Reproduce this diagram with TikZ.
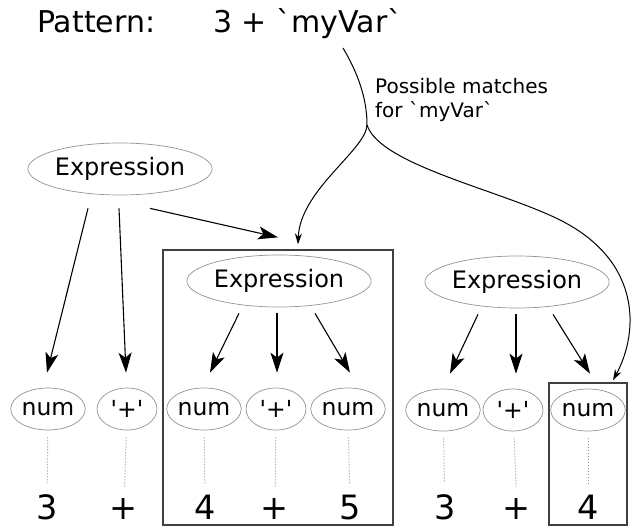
\documentclass[tikz,border=0pt]{standalone}
\usepackage{fontspec}
\setmainfont{DejaVu Sans}
\usetikzlibrary{shapes.geometric,arrows.meta}
\begin{document}
\begin{tikzpicture}[x=1pt, y=-1pt,
        >={Stealth[length=20pt,width=13pt,inset=5pt]},
        rule/.style={ellipse, draw=gray!85, line width=0.7pt, inner sep=0pt},
        expr/.style={rule, minimum width=180pt, minimum height=52pt, font=\fontsize{24}{28}\selectfont},
        leaf/.style={rule, minimum width=70pt, minimum height=42pt, font=\fontsize{23.5}{27}\selectfont},
        lit/.style={rule, minimum width=60pt, minimum height=42pt, font=\fontsize{23.5}{27}\selectfont},
        tok/.style={anchor=base, inner sep=0pt, font=\fontsize{33.5}{38}\selectfont},
        kid/.style={->, line width=1.1pt},
        link/.style={draw=gray!85, dotted, line width=1pt, shorten <=7pt, shorten >=11pt},
        matchbox/.style={draw=black!75, line width=1.3pt, inner sep=0pt},
        hint/.style={-{Stealth[length=11pt,width=7pt]}, line width=1pt}]
        \useasboundingbox (0,0) rectangle (640,527);

        % The pattern on top
        \node[anchor=base west, inner sep=0pt, font=\fontsize{30}{35}\selectfont] (patlabel) at (37,33) {Pattern:};
        \node[anchor=base west, inner sep=0pt, font=\fontsize{30}{35}\selectfont] (patexpr) at (213,33)
            {3 + \textasciigrave myVar\textasciigrave};
        \node[anchor=north west, inner sep=0pt, align=left, font=\fontsize{20}{24}\selectfont] (note) at (375,78)
            {Possible matches\\for \textasciigrave myVar\textasciigrave};

        % the two boxes around the matches
        \node[matchbox, minimum width=230pt, minimum height=275pt] (midbox) at (278,387.5) {};
        \node[matchbox, minimum width=78pt, minimum height=142pt] (hitbox) at (588,454) {};

        % the three Expression rules
        \node[expr] (topexpr) at (120,169) {Expression};
        \node[expr] (midexpr) at (279,281) {Expression};
        \node[expr] (rightexpr) at (517,282) {Expression};

        % the leaves, left to right
        \node[leaf] (num1) at (48,409) {num};
        \node[lit] (plus1) at (127,409) {\textquotesingle+\textquotesingle};
        \node[leaf] (num2) at (204,409) {num};
        \node[lit] (plus2) at (276,409) {\textquotesingle+\textquotesingle};
        \node[leaf] (num3) at (348,409) {num};
        \node[leaf] (num4) at (443,410) {num};
        \node[lit] (plus3) at (513,410) {\textquotesingle+\textquotesingle};
        \node[leaf] (num5) at (588,410) {num};

        % the tokens at the bottom
        \node[tok] (t1) at (47,519) {3};
        \node[tok] (t2) at (124,519) {+};
        \node[tok] (t3) at (205,519) {4};
        \node[tok] (t4) at (275,519) {+};
        \node[tok] (t5) at (350,519) {5};
        \node[tok] (t6) at (445,519) {3};
        \node[tok] (t7) at (517,519) {+};
        \node[tok] (t8) at (588,519) {4};

        % dotted lines from the leaves to the tokens
        \foreach \a/\b in {num1/t1, plus1/t2, num2/t3, plus2/t4, num3/t5, num4/t6, plus3/t7, num5/t8}
        \draw[link] (\a) -- (\b);

        % arrows of the first Expression
        \draw[kid] ([xshift=-32pt,yshift=-13pt]topexpr.south) -- ([xshift=-1pt,yshift=15pt]num1.north);
        \draw[kid] ([xshift=-1pt,yshift=-13pt]topexpr.south) -- ([xshift=-1pt,yshift=15pt]plus1.north);
        \draw[kid] ([xshift=30pt,yshift=-13pt]topexpr.south) -- ([yshift=12pt]midbox.north);

        % arrows of the boxed Expression
        \draw[kid] ([xshift=-40pt,yshift=-6pt]midexpr.south) -- ([xshift=6pt,yshift=15pt]num2.north);
        \draw[kid] ([xshift=-2pt,yshift=-6pt]midexpr.south) -- ([xshift=1pt,yshift=15pt]plus2.north);
        \draw[kid] ([xshift=36pt,yshift=-6pt]midexpr.south) -- ([xshift=2pt,yshift=15pt]num3.north);

        % arrows of the right Expression
        \draw[kid] ([xshift=-39pt,yshift=-6pt]rightexpr.south) -- ([xshift=7pt,yshift=15pt]num4.north);
        \draw[kid] ([xshift=-1pt,yshift=-6pt]rightexpr.south) -- ([xshift=3pt,yshift=15pt]plus3.north);
        \draw[kid] ([xshift=36pt,yshift=-6pt]rightexpr.south) -- ([xshift=2pt,yshift=15pt]num5.north);

        % the curve from `myVar` that splits in two
        \coordinate (from) at (343,48);
        \coordinate (fork) at (367,125);
        \draw[line width=1pt] (from) .. controls (362,80) and (367,105) .. (fork);
        \draw[hint] (fork) .. controls (366,150) and (300,190) .. ([xshift=20pt,yshift=5pt]midbox.north);
        \draw[hint] (fork) .. controls (380,165) and (500,190) .. (560,220)
            .. controls (640,260) and (640,330) .. ([xshift=25pt,yshift=2pt]hitbox.north);
    \end{tikzpicture}
\end{document}
